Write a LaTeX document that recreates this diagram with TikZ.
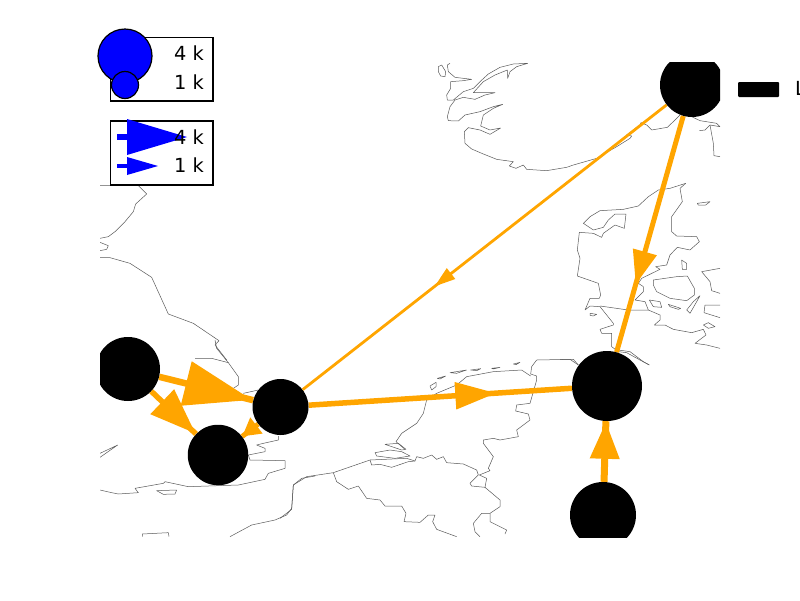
\documentclass[tikz,border=0pt]{standalone}
\usepackage{fontspec}
\setmainfont{DejaVu Sans}
\usetikzlibrary{arrows.meta,decorations.markings,backgrounds}
\definecolor{flowc}{HTML}{FFA500}
\tikzset{
  coast/.style={draw=black!65,line width=0.5pt,line join=round},
  site/.style={circle,fill=black,draw=none,inner sep=0pt,minimum size=#1},
  flow/.style n args={4}{draw=flowc,line width=#1,postaction={decorate},
    decoration={markings,mark=at position #2 with {\arrow[flowc]{Triangle[length=#3,width=#4,sep=0pt]}}}},
  legendbox/.style={draw=black,fill=white,line width=1.3pt,inner sep=0pt},
  bubble/.style={circle,draw=black,line width=1.2pt,fill=blue,inner sep=0pt,minimum size=#1},
  sizelabel/.style={anchor=base east,inner sep=0pt,font=\fontsize{19.4}{20}\selectfont}
}
\newcommand{\mapclip}{\clip (100,62) rectangle (720,537);}
\begin{document}
\begin{tikzpicture}[x=1pt,y=-1pt]
\useasboundingbox (0,0) rectangle (800,600);
\begin{scope}
\mapclip
\node[site=64pt] (A) at (128,369) {};
\node[site=56pt] (B) at (280.5,407) {};
\node[site=60.5pt] (C) at (218,455) {};
\node[site=70pt] (D) at (607,386) {};
\node[site=66pt] (E) at (603,515) {};
\node[site=64pt] (F) at (692,85) {};
\end{scope}
\begin{pgfonlayer}{background}
\mapclip
% Wadden / north German coast
\begin{scope}[shift={(430,50)},scale=1/3,coast]
\draw (25,50) -- (35,45) -- (47,65) -- (45,80) -- (32,78) -- (25,65) -- cycle;
\draw (60,40) -- (52,45) -- (55,65) -- (75,82) -- (125,88) -- (100,92) -- (62,95) -- (62,115) -- (50,135) -- (52,150) -- (70,150) -- (100,125) -- (130,115) -- (150,95) -- (175,72) -- (210,52) -- (250,42) -- (293,40) -- (260,50) -- (240,65) -- (233,85) -- (232,60) -- (195,75) -- (160,95) -- (130,128) -- (195,128) -- (165,135) -- (135,148) -- (100,142) -- (75,150) -- (60,170) -- (52,200) -- (55,212) -- (85,213) -- (105,195) -- (150,185) -- (190,170) -- (218,163) -- (190,175) -- (160,195) -- (152,228) -- (180,240) -- (212,234) -- (180,253) -- (150,240) -- (115,233) -- (103,245) -- (105,280) -- (125,297) -- (160,312) -- (200,328) -- (250,335) -- (238,348) -- (258,355) -- (280,345) -- (290,358) -- (350,362) -- (410,352) -- (430,345) -- (500,325) -- (560,290) -- (600,265) -- (605,258) -- (590,255) -- (630,225) -- (633,218) -- (650,225) -- (665,240) -- (712,232) -- (735,210) -- (750,195);
\draw (785,200) -- (810,212) -- (860,220) -- (870,230) -- (840,225) -- (825,240) -- (808,242);
\draw (840,225) -- (850,280) -- (852,317) -- (870,320);
\end{scope}
% Denmark
\begin{scope}[shift={(560,170)},scale=1/3,coast]
\draw (377,40) -- (330,55) -- (295,60) -- (265,80) -- (235,108) -- (190,118) -- (120,122) -- (90,140) -- (70,160) -- (100,180) -- (130,172) -- (145,150) -- (165,132) -- (198,132) -- (193,175) -- (165,165) -- (130,190) -- (125,202) -- (100,190) -- (58,187) -- (52,240) -- (60,265) -- (52,318) -- (115,340) -- (122,375) -- (118,385) -- (90,385) -- (75,420) -- (90,408) -- (120,410) -- (160,460) -- (160,465) -- (120,478) -- (125,490) -- (155,490) -- (155,530) -- (175,545) -- (200,548) -- (240,570) -- (268,585);
\draw (175,540) -- (210,545) -- (250,575) -- (268,585);
\draw (377,40) -- (360,55) -- (367,95) -- (335,140) -- (335,185) -- (350,198) -- (410,200) -- (418,215) -- (390,240) -- (352,232) -- (330,255) -- (320,285) -- (287,290) -- (300,298) -- (245,325) -- (235,340) -- (250,350) -- (250,365) -- (225,390) -- (255,395) -- (265,420) -- (205,420) -- (120,408);
\draw (265,420) -- (300,435) -- (300,450) -- (283,465) -- (315,465) -- (340,478) -- (395,488) -- (430,478) -- (438,495) -- (405,520) -- (440,525) -- (480,535);
\draw (280,330) -- (350,320) -- (382,318) -- (403,355) -- (403,375) -- (380,392) -- (330,385) -- (290,365) -- (280,345) -- cycle;
\draw (268,390) -- (300,395) -- (305,412) -- (280,410) -- cycle;
\draw (325,403) -- (362,415) -- (355,418) -- (330,410) -- cycle;
\draw (420,377) -- (410,395) -- (390,430) -- (380,420) -- (400,395) -- cycle;
\draw (480,405) -- (435,405) -- (432,428) -- (480,443);
\draw (430,465) -- (445,458) -- (465,470) -- (445,475) -- cycle;
\draw (412,100) -- (450,95) -- (437,105) -- (415,105) -- cycle;
\draw (90,430) -- (110,433) -- (100,438) -- (90,436) -- cycle;
\draw (365,270) -- (380,280) -- (380,298) -- (367,298) -- cycle;
\draw (480,295) -- (425,305) -- (450,335) -- (455,362) -- (480,370);
\draw (0,568) -- (40,568) -- (55,585);
\end{scope}
% British east coast
\begin{scope}[shift={(95,180)},scale=1/3,coast]
\draw (15,17) -- (130,17) -- (155,42) -- (122,72) -- (115,95) -- (90,125) -- (60,155) -- (40,170) -- (15,175);
\draw (15,187) -- (40,197) -- (35,208) -- (15,212);
\draw (15,233) -- (45,233) -- (105,250) -- (170,292) -- (220,402) -- (295,430) -- (372,482) -- (360,495) -- (395,540);
\end{scope}
% Southern England
\begin{scope}[shift={(95,340)},scale=1/3,coast]
\draw (360,0) -- (365,25) -- (400,68) -- (430,110) -- (430,135) -- (415,145);
\draw (300,55) -- (350,55) -- (400,68);
\draw (445,160) -- (490,150);
\draw (550,288) -- (550,300) -- (505,310) -- (485,315) -- (510,325) -- (510,335) -- (460,345) -- (465,360) -- (570,362) -- (570,385) -- (520,400) -- (510,418) -- (430,435) -- (280,440) -- (210,425) -- (205,430) -- (120,445) -- (130,458) -- (70,462) -- (50,458) -- (15,450);
\draw (185,452) -- (245,450) -- (240,462) -- (205,463) -- cycle;
\draw (15,352) -- (68,315) -- (15,340);
\draw (660,408) -- (620,415) -- (595,435) -- (590,505) -- (575,525) -- (540,540) -- (470,555) -- (405,590);
\draw (142,590) -- (142,582) -- (220,578) -- (222,590);
\end{scope}
% Low countries
\begin{scope}[shift={(280,350)},scale=1/3,coast]
\draw (160,368) -- (270,330) -- (380,325) -- (405,333) -- (410,320) -- (430,325) -- (455,315) -- (470,328) -- (490,320) -- (500,338) -- (550,342) -- (590,360) -- (595,375) -- (570,400) -- (575,408) -- (615,412) -- (620,385) -- (598,375) -- (630,362) -- (625,355) -- (640,320) -- (610,280) -- (610,270) -- (640,265) -- (660,270) -- (715,260) -- (710,240) -- (750,210) -- (745,192) -- (707,183) -- (710,165) -- (750,160) -- (770,90) -- (770,78) -- (752,72) -- (755,50) -- (770,30) -- (870,28) -- (895,45);
\draw (752,78) -- (725,60) -- (640,65) -- (560,80) -- (530,105) -- (470,130) -- (440,150) -- (430,190) -- (410,220) -- (365,250) -- (348,275) -- (375,298);
\draw (315,283) -- (355,280) -- (378,298) -- (365,300) -- cycle;
\draw (285,308) -- (330,300) -- (365,305) -- (390,318) -- (345,325) -- (290,318) -- cycle;
\draw (270,330) -- (275,345) -- (300,343) -- (335,352) -- (385,335) -- (405,333);
\draw (450,108) -- (468,97) -- (468,110) -- (455,120) -- cycle;
\draw (472,85) -- (497,78) -- (480,87) -- cycle;
\draw (510,68) -- (560,60) -- (530,70) -- cycle;
\draw (572,60) -- (602,56) -- (590,62) -- cycle;
\draw (635,55) -- (660,52) -- (640,57) -- cycle;
\draw (700,42) -- (720,37) -- (708,44) -- cycle;
\draw (160,368) -- (170,395) -- (205,418) -- (235,408) -- (260,445) -- (300,450) -- (315,468) -- (365,468) -- (378,490) -- (372,515) -- (420,517) -- (445,495) -- (465,495) -- (458,515) -- (470,538) -- (530,560);
\draw (160,368) -- (80,380) -- (40,405) -- (35,478) -- (0,505);
\draw (615,412) -- (660,450) -- (660,470) -- (630,490) -- (605,490) -- (580,520) -- (585,545) -- (600,560);
\draw (630,490) -- (630,515) -- (680,540) -- (675,552);
\end{scope}
% flows
\path[flow={2.8pt}{0.638}{21pt}{13pt}] (F) -- (B);
\path[flow={5pt}{0.714}{34pt}{23.5pt}] (F) -- (D);
\path[flow={5.5pt}{0.713}{41pt}{26pt}] (B) -- (D);
\path[flow={7pt}{0.99}{37pt}{28pt}] (E) -- (D);
\path[flow={6.5pt}{0.99}{68pt}{44pt}] (A) -- (B);
\path[flow={5.5pt}{0.99}{46pt}{33pt}] (A) -- (C);
\path[flow={5pt}{0.999}{18pt}{19pt}] (B) -- (C);
\end{pgfonlayer}
% legends
\node[legendbox,minimum width=102.5pt,minimum height=63.5pt] (boxA) at (161.75,69.25) {};
\node[bubble=54pt] (b4) at (125,56) {};
\node[bubble=27pt] (b1) at (125,85) {};
\node[sizelabel] (t4a) at (204,60.7) {4 k};
\node[sizelabel] (t1a) at (204,89.7) {1 k};
\node[legendbox,minimum width=102.5pt,minimum height=64pt] (boxB) at (161.75,153) {};
\fill[blue] (117,133.5) rectangle (128,140);
\fill[blue] (127,119) -- (187,137) -- (127,155) -- cycle;
\fill[blue] (117,164) rectangle (128,168);
\fill[blue] (127,157) -- (158,166) -- (127,175) -- cycle;
\node[sizelabel] (t4b) at (204,144) {4 k};
\node[sizelabel] (t1b) at (204,172.7) {1 k};
\fill[black,rounded corners=1pt] (738,82) rectangle (779,97);
\node[anchor=base west,inner sep=0pt,font=\fontsize{19.4}{20}\selectfont] (lab) at (795,95.5) {L};
\end{tikzpicture}
\end{document}
